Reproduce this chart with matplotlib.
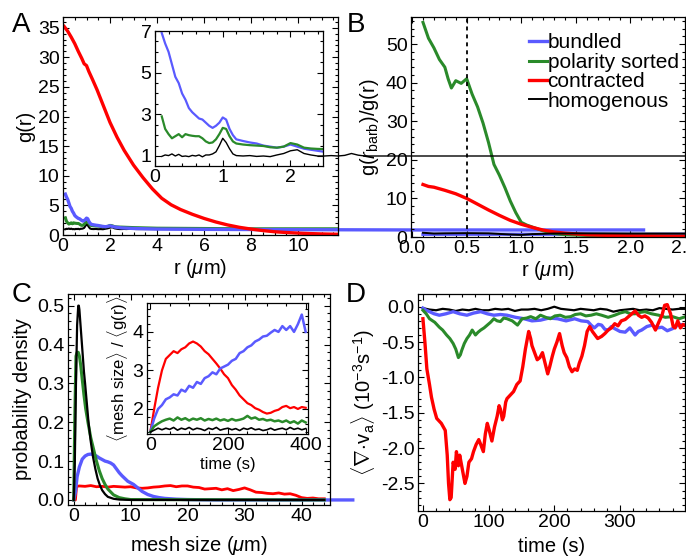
import matplotlib
matplotlib.use("Agg")
import matplotlib.pyplot as plt
from matplotlib.ticker import MultipleLocator, FormatStrFormatter

plt.rcParams['font.family'] = ['Liberation Sans', 'DejaVu Sans']
plt.rcParams['mathtext.fontset'] = 'custom'
plt.rcParams['mathtext.rm'] = 'Liberation Sans'
plt.rcParams['mathtext.it'] = 'Liberation Sans:italic'
plt.rcParams['mathtext.bf'] = 'Liberation Sans:bold'

BLUE = '#5a5aff'
GREEN = '#2a8a2a'
RED = '#ff0000'
BLACK = 'black'

# --- A: pair correlation g(r) ---
r_red = [0.05, 0.2, 0.35, 0.5, 0.65, 0.8, 0.9, 1.0, 1.1, 1.25, 1.45, 1.7, 2.0, 2.3, 2.6,
         3.0, 3.4, 3.8, 4.2, 4.6, 5.0, 5.5, 6.0, 6.5, 7.0, 7.5, 8.0, 8.5, 9.0, 9.5, 10.0,
         10.5, 11.0, 11.7]
g_red = [35.2, 34.4, 33.4, 32.3, 31.0, 29.8, 28.9, 28.6, 27.6, 26.3, 24.5, 22.0, 19.0, 16.5,
         14.3, 11.8, 9.7, 7.8, 6.2, 5.1, 4.3, 3.5, 2.8, 2.2, 1.7, 1.3, 1.0, 0.75, 0.55, 0.42,
         0.32, 0.24, 0.18, 0.12]

r_blue = [0.1, 0.15, 0.2, 0.25, 0.3, 0.35, 0.4, 0.45, 0.5, 0.55, 0.6, 0.65, 0.7, 0.75, 0.8,
          0.85, 0.9, 0.95, 1.0, 1.05, 1.1, 1.15, 1.2, 1.3, 1.4, 1.5, 1.6, 1.7, 1.8, 1.9, 2.0,
          2.1, 2.2, 2.3, 2.4, 2.5, 3.0, 4.0, 6.0, 10.0, 15.0, 24.7]
g_blue = [6.9, 6.4, 6.0, 5.4, 4.8, 4.5, 4.0, 3.7, 3.3, 3.1, 2.95, 2.8, 2.75, 2.6, 2.45, 2.35,
          2.45, 2.6, 2.85, 2.75, 2.3, 2.0, 1.8, 1.72, 1.65, 1.6, 1.5, 1.45, 1.4, 1.45, 1.55,
          1.45, 1.35, 1.3, 1.25, 1.2, 1.1, 1.0, 0.95, 0.9, 0.85, 0.85]

r_green = [0.1, 0.15, 0.2, 0.25, 0.3, 0.35, 0.4, 0.45, 0.5, 0.55, 0.6, 0.65, 0.7, 0.75, 0.8,
           0.85, 0.9, 0.95, 1.0, 1.05, 1.1, 1.15, 1.2, 1.3, 1.4, 1.5, 1.6, 1.7, 1.8, 1.9, 2.0,
           2.1, 2.2, 2.3, 2.4, 2.5, 3.0, 4.0, 6.0, 8.0, 11.7]
g_green = [2.9, 2.3, 2.05, 1.85, 1.95, 2.05, 1.9, 2.05, 2.0, 1.97, 1.95, 1.95, 1.85, 1.7, 1.62,
           1.65, 1.8, 2.05, 2.35, 2.3, 1.95, 1.7, 1.6, 1.55, 1.52, 1.5, 1.48, 1.42, 1.4, 1.45,
           1.62, 1.55, 1.4, 1.36, 1.34, 1.33, 1.25, 1.15, 1.1, 1.05, 1.05]

r_black = [0.1, 0.15, 0.2, 0.25, 0.3, 0.35, 0.4, 0.45, 0.5, 0.55, 0.6, 0.65, 0.7, 0.75, 0.8,
           0.85, 0.9, 0.95, 1.0, 1.05, 1.1, 1.15, 1.2, 1.3, 1.4, 1.5, 1.6, 1.7, 1.8, 1.9, 2.0,
           2.1, 2.2, 2.3, 2.4, 2.5, 2.6, 2.7, 2.8, 2.9, 3.0, 3.1, 4.0, 6.0, 8.0, 10.0, 12.0]
g_black = [0.98, 1.05, 1.02, 1.1, 1.0, 1.08, 0.98, 1.0, 0.97, 1.03, 1.0, 1.05, 0.96, 1.05, 1.05,
           1.1, 1.2, 1.5, 1.85, 1.65, 1.35, 1.1, 1.02, 1.0, 1.02, 0.98, 1.0, 0.97, 1.05, 1.12,
           1.25, 1.3, 1.12, 1.05, 1.0, 1.0, 1.02, 1.0, 1.03, 1.12, 1.04, 1.0, 1.0, 1.0, 1.0,
           1.0, 1.0]

# --- B: g(r_barb)/g(r) ---
rB_green = [0.1, 0.15, 0.2, 0.25, 0.3, 0.33, 0.36, 0.4, 0.45, 0.5, 0.55, 0.6, 0.65, 0.7, 0.75,
            0.8, 0.85, 0.9, 0.95, 1.0, 1.05, 1.1, 1.2, 1.3, 1.4, 1.6, 1.8, 2.0, 2.3, 2.6]
gB_green = [55.6, 51.5, 49.0, 46.0, 44.0, 41.0, 38.6, 40.5, 39.8, 41.0, 37.0, 33.7, 29.5, 24.5,
            18.8, 16.0, 12.8, 9.3, 6.3, 3.8, 3.1, 2.6, 1.6, 0.9, 0.6, 0.4, 0.3, 0.25, 0.2, 0.2]
rB_red = [0.1, 0.15, 0.2, 0.25, 0.3, 0.4, 0.5, 0.6, 0.7, 0.8, 0.9, 1.0, 1.1, 1.2, 1.3, 1.4,
          1.5, 1.6, 1.8, 2.0, 2.2, 2.4, 2.6]
gB_red = [13.6, 13.1, 12.9, 12.5, 12.1, 11.2, 10.0, 8.5, 7.0, 5.6, 4.3, 3.3, 2.5, 1.8, 1.3, 1.0,
          0.8, 0.6, 0.4, 0.3, 0.25, 0.2, 0.2]
rB_blue = [0.1, 0.5, 1.0, 1.5, 2.0, 2.6]
gB_blue = [0.7, 0.72, 0.7, 0.72, 0.7, 0.7]
rB_black = [0.1, 0.2, 0.3, 0.5, 0.7, 0.9, 1.0, 1.1, 1.3, 1.6, 2.0, 2.6]
gB_black = [1.1, 0.9, 0.95, 1.0, 0.95, 0.65, 0.55, 0.75, 0.9, 0.95, 0.9, 0.9]
r_barb = 0.5

# --- C: mesh size distribution ---
m_black = [0, 0.2, 0.4, 0.6, 0.8, 0.9, 1.0, 1.2, 1.4, 1.6, 1.8, 2.0, 2.3, 2.6, 3.0, 3.4, 3.8,
           4.2, 4.6, 5.0, 5.5, 6.0, 7.0, 8.0, 10, 44]
p_black = [0, 0.1, 0.3, 0.45, 0.5, 0.5, 0.49, 0.45, 0.41, 0.37, 0.33, 0.3, 0.25, 0.2, 0.15,
           0.11, 0.08, 0.055, 0.038, 0.025, 0.015, 0.008, 0.003, 0.001, 0, 0]
m_green = [0, 0.2, 0.4, 0.6, 0.8, 1.0, 1.2, 1.5, 1.8, 2.1, 2.5, 3.0, 3.5, 4.0, 4.5, 5.0, 5.5,
           6.0, 7.0, 8.0, 9.0, 10, 44]
p_green = [0, 0.22, 0.37, 0.38, 0.38, 0.37, 0.35, 0.31, 0.27, 0.235, 0.2, 0.16, 0.13, 0.1,
           0.075, 0.055, 0.04, 0.028, 0.013, 0.006, 0.003, 0.001, 0]
m_blue = [0, 0.3, 0.6, 1.0, 1.5, 2.0, 2.5, 3.0, 3.5, 4.0, 4.5, 5.0, 5.5, 6.0, 6.5, 7.0, 7.5,
          8.0, 8.5, 9.0, 9.5, 10, 10.5, 11, 11.5, 12, 13, 14, 15, 16, 18, 20, 25, 49]
p_blue = [0, 0.02, 0.06, 0.085, 0.105, 0.113, 0.117, 0.118, 0.116, 0.113, 0.108, 0.104, 0.1,
          0.098, 0.095, 0.09, 0.08, 0.07, 0.062, 0.055, 0.048, 0.044, 0.04, 0.034, 0.028,
          0.022, 0.014, 0.009, 0.006, 0.004, 0.002, 0.001, 0, 0]
m_red = [0, 0.3, 0.5, 1, 2, 3, 4, 5, 6, 7, 8, 9, 10, 11, 12, 13, 14, 15, 16, 17, 18, 19, 20, 21,
         22, 23, 24, 25, 26, 27, 28, 29, 30, 31, 32, 33, 34, 35, 36, 37, 38, 39, 40, 41, 42,
         43, 44]
p_red = [0, 0.0, 0.035, 0.036, 0.035, 0.037, 0.034, 0.035, 0.033, 0.035, 0.034, 0.033, 0.034,
         0.031, 0.03, 0.031, 0.033, 0.034, 0.036, 0.037, 0.034, 0.036, 0.036, 0.033, 0.032,
         0.028, 0.029, 0.03, 0.026, 0.029, 0.024, 0.027, 0.031, 0.026, 0.02, 0.019, 0.017,
         0.016, 0.018, 0.015, 0.016, 0.012, 0.006, 0.004, 0.005, 0.003, 0.003]

# inset C: <mesh size>/<g(r)> vs time
t_in = [0, 10, 20, 30, 40, 50, 60, 70, 80, 90, 100, 110, 120, 130, 140, 150, 160, 170, 180,
        190, 200, 210, 220, 230, 240, 250, 260, 270, 280, 290, 300, 310, 320, 330, 340, 350,
        360, 370, 380, 390, 400]
ms_red = [1.4, 2.0, 2.55, 3.0, 3.3, 3.4, 3.5, 3.45, 3.55, 3.6, 3.7, 3.75, 3.7, 3.62, 3.5, 3.42,
          3.3, 3.18, 3.05, 2.9, 2.8, 2.62, 2.5, 2.35, 2.25, 2.15, 2.1, 2.02, 1.98, 1.92, 1.88,
          1.9, 1.95, 1.98, 2.05, 2.08, 2.02, 2.05, 2.0, 2.05, 2.03]
ms_blue = [1.4, 1.75, 2.0, 2.1, 2.25, 2.3, 2.38, 2.35, 2.5, 2.45, 2.6, 2.55, 2.7, 2.65, 2.8,
           2.85, 2.95, 2.9, 3.05, 3.1, 3.15, 3.25, 3.3, 3.45, 3.5, 3.6, 3.65, 3.75, 3.8, 3.88,
           3.9, 3.98, 4.05, 4.0, 4.15, 4.05, 4.15, 4.0, 4.2, 4.45, 4.0]
ms_green = [1.4, 1.55, 1.62, 1.68, 1.72, 1.75, 1.7, 1.78, 1.72, 1.76, 1.7, 1.75, 1.72, 1.76,
            1.7, 1.74, 1.71, 1.75, 1.7, 1.73, 1.69, 1.74, 1.7, 1.72, 1.75, 1.82, 1.75, 1.78,
            1.72, 1.74, 1.7, 1.72, 1.68, 1.7, 1.66, 1.7, 1.64, 1.68, 1.62, 1.7, 1.65]
ms_black = [1.4, 1.45, 1.5, 1.46, 1.5, 1.47, 1.52, 1.45, 1.5, 1.47, 1.52, 1.46, 1.5, 1.48,
            1.44, 1.5, 1.47, 1.52, 1.45, 1.48, 1.5, 1.46, 1.49, 1.44, 1.5, 1.47, 1.51, 1.46,
            1.48, 1.44, 1.46, 1.5, 1.45, 1.48, 1.5, 1.46, 1.52, 1.47, 1.5, 1.46, 1.49]

# --- D: mean divergence vs time ---
tD_red = [0, 3, 6, 10, 13, 17, 21, 25, 28, 31, 34, 37, 39, 41, 43, 46, 49, 51, 54, 56, 60, 64,
          67, 70, 74, 77, 81, 85, 88, 92, 95, 98, 101, 105, 109, 113, 116, 118, 121, 123, 126,
          128, 133, 138, 143, 148, 152, 156, 159, 161, 164, 166, 170, 174, 178, 182, 186, 190,
          193, 197, 200, 204, 208, 212, 215, 219, 223, 227, 231, 235, 238, 242, 246, 250, 254,
          258, 262, 266, 272, 277, 282, 287, 292, 297, 302, 308, 313, 318, 323, 328, 333, 338,
          343, 348, 354, 359, 364, 368, 372, 377, 381, 384, 388, 392, 396, 400]
dv_red = [-0.17, -0.5, -0.88, -1.1, -1.28, -1.45, -1.58, -1.62, -1.65, -1.7, -1.75, -2.1, -2.5,
          -2.73, -2.7, -2.2, -2.3, -2.05, -2.25, -2.1, -2.3, -2.5, -2.4, -2.2, -2.15, -2.05,
          -1.95, -1.88, -1.95, -2.05, -1.8, -1.65, -1.75, -1.9, -1.7, -1.55, -1.4, -1.45, -1.6,
          -1.55, -1.35, -1.3, -1.25, -1.2, -1.1, -1.05, -0.85, -0.6, -0.45, -0.35, -0.45, -0.55,
          -0.65, -0.75, -0.72, -0.65, -0.8, -0.95, -0.85, -0.7, -0.6, -0.5, -0.38, -0.55,
          -0.65, -0.72, -0.85, -0.92, -0.88, -0.9, -0.8, -0.7, -0.55, -0.35, -0.28, -0.35,
          -0.4, -0.45, -0.42, -0.38, -0.33, -0.3, -0.24, -0.27, -0.2, -0.18, -0.14, -0.1,
          -0.06, -0.12, -0.15, -0.13, -0.16, -0.22, -0.33, -0.22, -0.12, 0.02, 0.03, -0.1,
          -0.28, -0.3, -0.2, -0.3, -0.25, -0.27]
tD_green = [0, 5, 10, 18, 25, 30, 36, 41, 46, 50, 54, 57, 59, 63, 67, 71, 75, 80, 84, 88, 93,
            98, 103, 108, 113, 118, 123, 128, 136, 144, 151, 158, 164, 172, 179, 187, 194,
            201, 209, 217, 225, 232, 240, 248, 256, 264, 272, 282, 292, 300, 308, 316, 323,
            331, 338, 348, 359, 369, 380, 390, 400]
dv_green = [-0.05, -0.1, -0.17, -0.22, -0.29, -0.33, -0.4, -0.45, -0.52, -0.6, -0.72, -0.68,
            -0.62, -0.52, -0.45, -0.4, -0.33, -0.4, -0.36, -0.33, -0.3, -0.26, -0.22, -0.17,
            -0.2, -0.21, -0.16, -0.17, -0.2, -0.26, -0.17, -0.16, -0.14, -0.17, -0.12, -0.15,
            -0.17, -0.13, -0.12, -0.15, -0.14, -0.11, -0.1, -0.13, -0.12, -0.1, -0.12, -0.15,
            -0.12, -0.09, -0.07, -0.1, -0.1, -0.08, -0.07, -0.1, -0.12, -0.15, -0.14, -0.17,
            -0.14]
tD_blue = [0, 5, 10, 17, 25, 35, 46, 56, 67, 77, 88, 98, 108, 118, 128, 141, 154, 166, 179,
           192, 205, 218, 231, 241, 251, 256, 261, 267, 272, 277, 282, 287, 292, 300, 308,
           315, 323, 328, 333, 341, 349, 356, 364, 372, 380, 390, 400]
dv_blue = [-0.02, -0.05, -0.07, -0.1, -0.12, -0.1, -0.07, -0.1, -0.12, -0.09, -0.07, -0.1,
           -0.12, -0.11, -0.12, -0.15, -0.17, -0.2, -0.19, -0.16, -0.17, -0.2, -0.17, -0.2,
           -0.21, -0.26, -0.3, -0.25, -0.26, -0.32, -0.33, -0.28, -0.31, -0.35, -0.36, -0.3,
           -0.4, -0.35, -0.33, -0.28, -0.26, -0.3, -0.29, -0.34, -0.31, -0.25, -0.26]
tD_black = [0, 10, 20, 30, 40, 50, 60, 70, 80, 90, 100, 110, 120, 130, 140, 150, 160, 170, 180,
            190, 200, 210, 220, 230, 240, 250, 260, 270, 280, 290, 300, 310, 320, 330, 340,
            350, 360, 370, 380, 390, 400]
dv_black = [-0.02, -0.04, -0.05, -0.03, -0.04, -0.06, -0.04, -0.05, -0.03, -0.05, -0.05,
            -0.03, -0.04, -0.03, -0.06, -0.04, -0.04, -0.03, -0.05, -0.03, 0.0, -0.03, -0.04,
            -0.05, -0.03, -0.04, -0.05, -0.03, -0.04, -0.07, -0.05, -0.04, -0.03, -0.05,
            -0.04, -0.05, -0.02, -0.03, -0.04, -0.03, -0.03]

TICK = 14
LAB = 14.5


def frame(ax, xmaj, xmin, ymaj, ymin, size=TICK):
    ax.xaxis.set_major_locator(MultipleLocator(xmaj))
    ax.xaxis.set_minor_locator(MultipleLocator(xmin))
    ax.yaxis.set_major_locator(MultipleLocator(ymaj))
    ax.yaxis.set_minor_locator(MultipleLocator(ymin))
    ax.tick_params(which='both', direction='in', top=True, right=True, labelsize=size,
                   width=0.8, pad=2.5)
    ax.tick_params(which='major', length=4.5)
    ax.tick_params(which='minor', length=2.5)
    for s in ax.spines.values():
        s.set_linewidth(0.9)


W, H = 686, 559
fig = plt.figure(figsize=(6.86, 5.59), dpi=100)


def rect(x0, y0, x1, y1):
    return [x0 / W, 1 - y1 / H, (x1 - x0) / W, (y1 - y0) / H]


axA = fig.add_axes(rect(63, 17, 338, 235))
axB = fig.add_axes(rect(411, 17, 685, 237))
axC = fig.add_axes(rect(68, 294, 330, 505))
axD = fig.add_axes(rect(418, 294, 685, 511))
for a in (axA, axB, axC, axD):
    a.set_facecolor('none')

# A
axA.plot(r_black, g_black, color=BLACK, lw=1.5)
axA.plot(r_green, g_green, color=GREEN, lw=2.2)
axA.plot(r_blue, g_blue, color=BLUE, lw=2.4, clip_on=False)
axA.plot(r_red, g_red, color=RED, lw=2.4)
axA.set_xlim(0, 11.7)
axA.set_ylim(0, 36.8)
frame(axA, 2, 0.5, 5, 1)
axA.set_xlabel(r'r ($\mu$m)', fontsize=LAB, labelpad=1)
axA.set_ylabel('g(r)', fontsize=LAB, labelpad=2)

# B
axB.plot(rB_blue, gB_blue, color=BLUE, lw=2.4, label='bundled')
axB.plot(rB_green, gB_green, color=GREEN, lw=2.2, label='polarity sorted')
axB.plot(rB_red, gB_red, color=RED, lw=2.4, label='contracted')
axB.plot(rB_black, gB_black, color=BLACK, lw=1.4, label='homogenous')
axB.axvline(r_barb, color=BLACK, lw=1.3, ls=(0, (2.2, 2.2)))
axB.set_xlim(-0.01, 2.5)
axB.set_ylim(0, 57)
frame(axB, 0.5, 0.1, 10, 2)
axB.xaxis.set_major_formatter(FormatStrFormatter('%.1f'))
axB.set_xlabel(r'r ($\mu$m)', fontsize=LAB, labelpad=1)
axB.set_ylabel(r'g($\mathit{r}_{\mathrm{barb}}$)/g(r)', fontsize=LAB, labelpad=3)
axB.legend(loc='upper left', bbox_to_anchor=(0.43, 0.925), frameon=False, fontsize=15,
           handlelength=0.85, handletextpad=0.05, labelspacing=0.02, borderpad=0,
           borderaxespad=0)

# C
axC.plot(m_red, p_red, color=RED, lw=2.0)
axC.plot(m_blue, p_blue, color=BLUE, lw=2.4, clip_on=False)
axC.plot(m_green, p_green, color=GREEN, lw=2.2)
axC.plot(m_black, p_black, color=BLACK, lw=1.6)
axC.set_xlim(-1, 45)
axC.set_ylim(-0.013, 0.53)
frame(axC, 10, 2, 0.1, 0.02)
axC.yaxis.set_major_formatter(FormatStrFormatter('%.1f'))
axC.set_xlabel(r'mesh size ($\mu$m)', fontsize=LAB, labelpad=6)
axC.set_ylabel('probability density', fontsize=LAB, labelpad=4)

# D
axD.plot(tD_black, dv_black, color=BLACK, lw=1.6)
axD.plot(tD_blue, dv_blue, color=BLUE, lw=2.4)
axD.plot(tD_green, dv_green, color=GREEN, lw=2.2)
axD.plot(tD_red, dv_red, color=RED, lw=2.4)
axD.set_xlim(-7.5, 399)
axD.set_ylim(-2.89, 0.18)
frame(axD, 100, 20, 0.5, 0.1)
axD.yaxis.set_major_formatter(FormatStrFormatter('%.1f'))
axD.set_xlabel('time (s)', fontsize=LAB, labelpad=4)
axD.set_ylabel(r'$\langle\nabla\!\cdot\!\mathrm{v_a}\rangle$ (10$^{-3}$s$^{-1}$)',
               fontsize=LAB, labelpad=3)

# insets (added last so their overflowing lines sit on top)
insA = fig.add_axes(rect(155, 31, 323, 166))
insA.plot(r_blue, g_blue, color=BLUE, lw=1.6)
insA.plot(r_green, g_green, color=GREEN, lw=1.6)
insA.plot(r_black, g_black, color=BLACK, lw=1.0, clip_on=False)
insA.set_xlim(0, 2.48)
insA.set_ylim(0.52, 7.0)
frame(insA, 1, 0.2, 2, 0.5)
insA.set_yticks([1, 3, 5, 7])

insC = fig.add_axes(rect(147, 303, 308, 434))
insC.plot(t_in, ms_red, color=RED, lw=1.6)
insC.plot(t_in, ms_blue, color=BLUE, lw=1.8)
insC.plot(t_in, ms_green, color=GREEN, lw=1.8)
insC.plot(t_in, ms_black, color=BLACK, lw=1.2)
insC.set_xlim(-8.5, 406)
insC.set_ylim(1.35, 4.75)
frame(insC, 200, 50, 1, 0.2)
insC.set_xlabel('time (s)', fontsize=12, labelpad=2)
insC.set_ylabel(r'$\langle$mesh size$\rangle$ / $\langle$g(r)$\rangle$', fontsize=12,
                labelpad=2)

# panel letters
for txt, x, y in [('A', 12, 32), ('B', 347, 32), ('C', 12, 302), ('D', 346, 302)]:
    fig.text(x / W, 1 - y / H, txt, fontsize=20, ha='left', va='baseline')

fig.savefig('out.png', dpi=100)
